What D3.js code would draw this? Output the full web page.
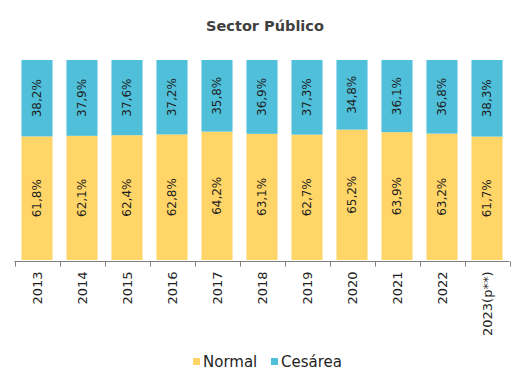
<!DOCTYPE html>
<html>
<head>
  <meta charset="utf-8">
  <title>Sector Público</title>
  <script src="https://d3js.org/d3.v7.min.js"></script>
  <style>
    body { margin: 0; background: #fff; }
    text { font-family: "DejaVu Sans", sans-serif; fill: #1f1f1f; }
  </style>
</head>
<body>
  <svg id="chart" width="526" height="374"></svg>
  <script>
    // data
    var years = ['2013', '2014', '2015', '2016', '2017', '2018', '2019', '2020', '2021', '2022', '2023(p**)'];
    var normal = [61.8, 62.1, 62.4, 62.8, 64.2, 63.1, 62.7, 65.2, 63.9, 63.2, 61.7];
    var cesarea = [38.2, 37.9, 37.6, 37.2, 35.8, 36.9, 37.3, 34.8, 36.1, 36.8, 38.3];
    var seriesNames = ['Normal', 'Cesárea'];
    var colors = ['#FFD567', '#4FBFDA'];

    var svg = d3.select('#chart');

    var x = d3.scaleBand().domain(years).range([14.5, 509.5]).paddingInner(0.31).paddingOuter(0.155);
    var y = d3.scaleLinear().domain([0, 100]).range([260, 60]);

    var rows = years.map(function(yr, i) { return {year: yr, Normal: normal[i], 'Cesárea': cesarea[i]}; });
    var stacked = d3.stack().keys(seriesNames)(rows);

    // title
    svg.append('text')
        .attr('x', 265).attr('y', 31)
        .attr('text-anchor', 'middle')
        .style('font-weight', 'bold')
        .style('font-size', '14.5px')
        .style('fill', '#404040')
        .text('Sector Público');

    // bars
    var layers = svg.selectAll('.layer')
      .data(stacked)
      .enter().append('g')
        .attr('class', 'layer')
        .attr('fill', function(d, i) { return colors[i]; });

    layers.selectAll('rect')
      .data(function(d) { return d; })
      .enter().append('rect')
        .attr('x', function(d) { return x(d.data.year); })
        .attr('width', x.bandwidth())
        .attr('y', function(d) { return y(d[1]); })
        .attr('height', function(d) { return y(d[0]) - y(d[1]); });

    // data labels, rotated
    layers.selectAll('text')
      .data(function(d) { return d; })
      .enter().append('text')
        .attr('transform', function(d) {
          var cx = x(d.data.year) + x.bandwidth() / 2;
          var cy = (y(d[0]) + y(d[1])) / 2;
          return 'translate(' + cx + ',' + cy + ') rotate(-90)';
        })
        .attr('text-anchor', 'middle')
        .attr('dy', '0.35em')
        .style('font-size', '12px')
        .text(function(d) { return (d[1] - d[0]).toFixed(1).replace('.', ',') + '%'; });

    // x axis: line, boundary ticks, rotated labels
    var axis = svg.append('g').attr('transform', 'translate(0,261.5)');
    axis.append('line')
        .attr('x1', 14.5).attr('x2', 509.5)
        .attr('stroke', '#7f7f7f');
    var bounds = years.map(function(yr) { return x(yr) - x.step() * x.paddingInner() / 2; });
    bounds.push(509.5);
    axis.selectAll('.tick')
      .data(bounds)
      .enter().append('line')
        .attr('class', 'tick')
        .attr('x1', function(d) { return Math.round(d) + 0.5; })
        .attr('x2', function(d) { return Math.round(d) + 0.5; })
        .attr('y1', 0).attr('y2', 5)
        .attr('stroke', '#7f7f7f');
    axis.selectAll('.lbl')
      .data(years)
      .enter().append('text')
        .attr('class', 'lbl')
        .attr('transform', function(d) { return 'translate(' + (x(d) + x.bandwidth() / 2) + ',10) rotate(-90)'; })
        .attr('text-anchor', 'end')
        .attr('dy', '0.35em')
        .style('font-size', '13px')
        .text(function(d) { return d; });

    // legend
    var legend = svg.append('g').attr('transform', 'translate(0,362)');
    var legX = [193, 271];
    seriesNames.forEach(function(name, i) {
      legend.append('rect')
          .attr('x', legX[i]).attr('y', -4)
          .attr('width', 7).attr('height', 7)
          .attr('fill', colors[i]);
      legend.append('text')
          .attr('x', legX[i] + 10).attr('y', 0)
          .attr('dy', '0.35em')
          .style('font-size', '15px')
          .text(name);
    });
  </script>
</body>
</html>
